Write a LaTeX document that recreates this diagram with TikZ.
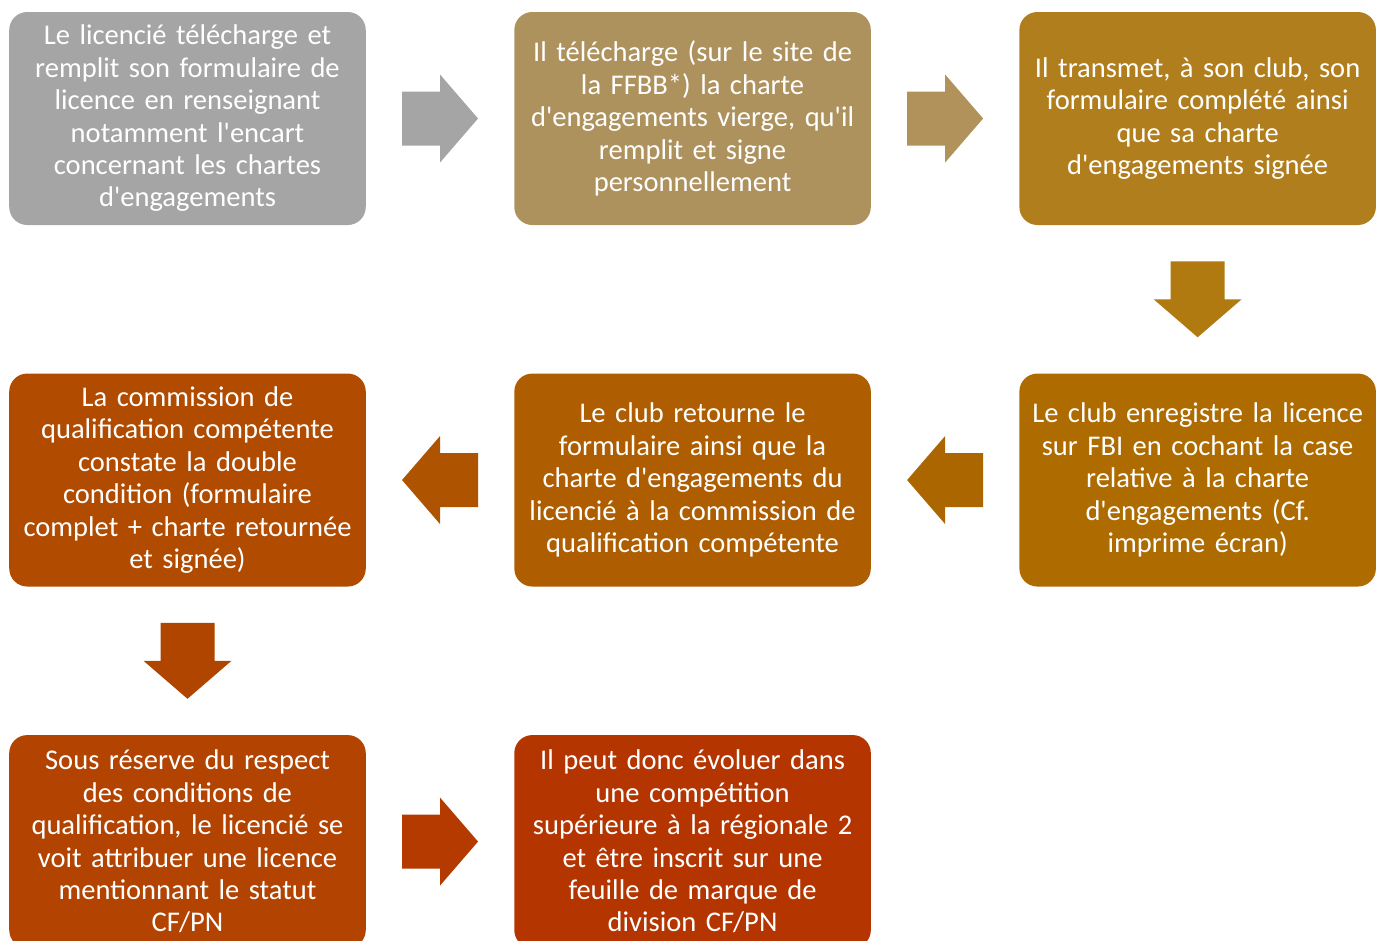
\documentclass[tikz,border=0pt]{standalone}
\usepackage{fontspec}
\setmainfont{Carlito}[Ligatures=TeXOff]
\usetikzlibrary{positioning,calc}
\definecolor{gris}{HTML}{A5A5A5}
\definecolor{sable}{HTML}{AE925E}
\definecolor{ocre}{HTML}{B07E1C}
\definecolor{ambre}{HTML}{AD6B00}
\definecolor{cuivre}{HTML}{AE5E00}
\definecolor{rouille}{HTML}{B04B00}
\definecolor{brique}{HTML}{B24300}
\definecolor{brun}{HTML}{B43500}
\definecolor{fsable}{HTML}{B0925A}
\definecolor{focre}{HTML}{B07A10}
\definecolor{fambre}{HTML}{AC6600}
\definecolor{fcuivre}{HTML}{AE5300}
\definecolor{frouille}{HTML}{B04500}
\definecolor{fbrique}{HTML}{B43A00}
\tikzset{
	etape/.style={fill=#1, rounded corners=13.5pt, minimum width=267.4pt, minimum height=159.75pt,
		text width=262pt, align=center, text=white, inner sep=0pt, font=\fontsize{21.4}{24.3}\selectfont},
	pics/fleche/.style={code={%fleche pleine
		\fill[#1] (-38,-27) -- (0,-27) -- (0,-44) -- (38,0) -- (0,44) -- (0,27) -- (-38,27) -- cycle;
	}}
}
\begin{document}
\begin{tikzpicture}[x=0.75pt, y=-0.75pt]
	\useasboundingbox (0,0) rectangle (1381,940);
	% premiere ligne
	\node[etape=gris] (b1) at (187.5,118.5) {Le licencié télécharge et\\remplit son formulaire de\\licence en renseignant\\notamment l'encart\\concernant les chartes\\d'engagements};
	\node[etape=sable, right=111pt of b1] (b2) {Il télécharge (sur le site de\\la FFBB*) la charte\\d'engagements vierge, qu'il\\remplit et signe\\personnellement};
	\node[etape=ocre, right=111pt of b2] (b3) {Il transmet, à son club, son\\formulaire complété ainsi\\que sa charte\\d'engagements signée};
	% deuxieme ligne
	\node[etape=ambre, below=111pt of b3] (b4) {Le club enregistre la licence\\sur FBI en cochant la case\\relative à la charte\\d'engagements (Cf.\\imprime écran)};
	\node[etape=cuivre, left=111pt of b4] (b5) {Le club retourne le\\formulaire ainsi que la\\charte d'engagements du\\licencié à la commission de\\qualification compétente};
	\node[etape=rouille, left=111pt of b5] (b6) {La commission de\\qualification compétente\\constate la double\\condition (formulaire\\complet + charte retournée\\et signée)};
	% troisieme ligne
	\node[etape=brique, below=111pt of b6] (b7) {Sous réserve du respect\\des conditions de\\qualification, le licencié se\\voit attribuer une licence\\mentionnant le statut\\CF/PN};
	\node[etape=brun, right=111pt of b7] (b8) {Il peut donc évoluer dans\\une compétition\\supérieure à la régionale 2\\et être inscrit sur une\\feuille de marque de\\division CF/PN};
	% fleches
	\pic at ($(b1.east)!0.5!(b2.west)$) {fleche=gris};
	\pic at ($(b2.east)!0.5!(b3.west)$) {fleche=fsable};
	\pic[rotate=-90] at ($(b3.south)!0.5!(b4.north)$) {fleche=focre};
	\pic[rotate=180] at ($(b4.west)!0.5!(b5.east)$) {fleche=fambre};
	\pic[rotate=180] at ($(b5.west)!0.5!(b6.east)$) {fleche=fcuivre};
	\pic[rotate=-90] at ($(b6.south)!0.5!(b7.north)$) {fleche=frouille};
	\pic at ($(b7.east)!0.5!(b8.west)$) {fleche=fbrique};
\end{tikzpicture}
\end{document}
